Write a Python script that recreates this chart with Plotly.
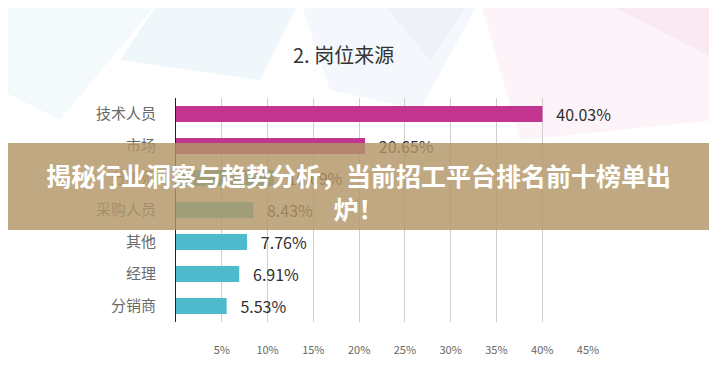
import plotly.graph_objects as go

categories = ["技术人员", "市场", "分析师", "采购人员", "其他", "经理", "分销商"]
values = [40.03, 20.65, 10.69, 8.43, 7.76, 6.91, 5.53]
bar_colors = ["#C2358F", "#C2358F", "#4DBBCB", "#4DBBCB", "#4DBBCB", "#4DBBCB", "#4DBBCB"]
tick_values = [5, 10, 15, 20, 25, 30, 35, 40, 45]
tick_labels = ["5%", "10%", "15%", "20%", "25%", "30%", "35%", "40%", "45%"]
title_text = "2. 岗位来源"
banner_text = "揭秘行业洞察与趋势分析，当前招工平台排名前十榜单出<br>炉！"

W, H = 717, 375
OFF = 8  # page body margin offset
ML, MT = 176 - OFF, 98 - OFF
PW, PH = 412, 224
MR, MB = W - ML - PW, H - MT - PH

def px_x(x):
    return (x - OFF - ML) / PW

def px_y(y):
    return (MT + PH - (y - OFF)) / PH

FONT = "Noto Sans CJK SC"

fig = go.Figure()
fig.add_trace(go.Bar(
    y=categories[::-1], x=values[::-1], orientation="h",
    marker=dict(color=bar_colors[::-1], line=dict(width=0)),
    width=0.5,
    text=values[::-1], texttemplate="   %{x:.2f}%", textposition="outside",
    constraintext="none",
    textfont=dict(family=FONT, size=16, color="#2E2E2E"),
    cliponaxis=False, hoverinfo="skip",
))

shapes = []
bg_polys = [
    ([(0, 0), (160, 0), (60, 120), (0, 90)], "rgba(200,230,240,0.2)"),
    ([(160, 0), (300, 0), (260, 80), (120, 60)], "rgba(190,225,240,0.25)"),
    ([(300, 0), (480, 0), (420, 110), (330, 90)], "rgba(200,220,240,0.2)"),
    ([(480, 0), (717, 0), (717, 120), (520, 140)], "rgba(245,200,225,0.2)"),
    ([(600, 0), (717, 0), (717, 60)], "rgba(240,190,215,0.2)"),
    ([(380, 0), (470, 0), (430, 60)], "rgba(225,215,235,0.25)"),
]
for pts, col in bg_polys:
    path = "M " + " L ".join(f"{px_x(x):.4f},{px_y(y):.4f}" for x, y in pts) + " Z"
    shapes.append(dict(type="path", xref="paper", yref="paper", path=path,
                       fillcolor=col, line=dict(width=0), layer="below"))
shapes.append(dict(type="rect", xref="paper", yref="paper",
                   x0=px_x(0), x1=px_x(W + 20), y0=px_y(230), y1=px_y(143),
                   fillcolor="rgba(178,150,102,0.82)", line=dict(width=0), layer="above"))

fig.update_layout(
    width=W, height=H,
    margin=dict(l=ML, r=MR, t=MT, b=MB),
    paper_bgcolor="white", plot_bgcolor="rgba(0,0,0,0)",
    showlegend=False, bargap=0.5,
    shapes=shapes,
    xaxis=dict(range=[0, 45], tickvals=tick_values, ticktext=tick_labels,
               showgrid=True, gridcolor="#CFCFCF", gridwidth=1, zeroline=False,
               ticks="outside", ticklen=18, tickcolor="rgba(0,0,0,0)",
               tickfont=dict(family=FONT, size=11, color="#666666"),
               showline=False, fixedrange=True),
    yaxis=dict(showline=True, linecolor="#222222", linewidth=1,
               ticks="outside", ticklen=16, tickcolor="rgba(0,0,0,0)",
               tickfont=dict(family=FONT, size=15, color="#6A6A6A"),
               showgrid=False, fixedrange=True),
    annotations=[
        dict(text=title_text, xref="paper", yref="paper", x=px_x(343), y=px_y(55),
             xanchor="center", yanchor="middle",
             showarrow=False, font=dict(family=FONT, size=20, color="#333333")),
        dict(text=banner_text, xref="paper", yref="paper", x=px_x(358), y=px_y(191),
             xanchor="center", yanchor="middle",
             showarrow=False, align="center",
             font=dict(family=FONT, size=25, color="white", weight="bold")),
    ],
)

fig.write_html("out.html")
